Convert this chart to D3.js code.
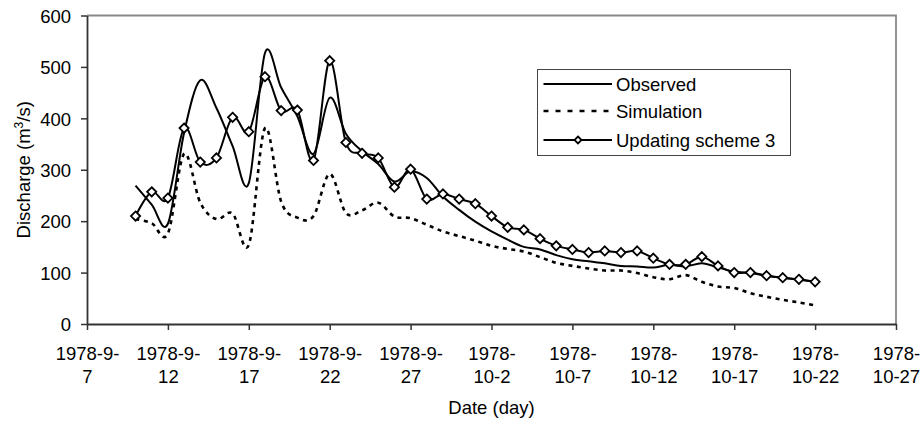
<!DOCTYPE html>
<html>
<head>
<meta charset="utf-8">
<script src="https://cdn.jsdelivr.net/npm/d3@7"></script>
<style>
  html, body { margin: 0; padding: 0; background: #fff; }
  svg { display: block; }
  text { font-family: "Liberation Sans", Arial, sans-serif; fill: #000; }
</style>
</head>
<body>
<svg id="chart" width="924" height="423"></svg>
<script>
// ---- data (daily, 1978-09-10 .. 1978-10-22) ----
const dates = [
  "1978-09-10","1978-09-11","1978-09-12","1978-09-13","1978-09-14","1978-09-15","1978-09-16",
  "1978-09-17","1978-09-18","1978-09-19","1978-09-20","1978-09-21","1978-09-22","1978-09-23",
  "1978-09-24","1978-09-25","1978-09-26","1978-09-27","1978-09-28","1978-09-29","1978-09-30",
  "1978-10-01","1978-10-02","1978-10-03","1978-10-04","1978-10-05","1978-10-06","1978-10-07",
  "1978-10-08","1978-10-09","1978-10-10","1978-10-11","1978-10-12","1978-10-13","1978-10-14",
  "1978-10-15","1978-10-16","1978-10-17","1978-10-18","1978-10-19","1978-10-20","1978-10-21",
  "1978-10-22"
];
const observed = [269, 232, 195, 372, 474, 420, 346, 274, 527, 460, 404, 331, 440, 370, 336, 311, 277, 297, 284, 248, 222,
                  199, 180, 164, 150, 145, 134, 126, 122, 118, 113, 112, 110, 115, 112, 118, 110, 102, 99, 94, 90, 86, 82];
const simulation = [204, 196, 176, 331, 236, 204, 215, 154, 381, 238, 207, 210, 292, 216, 221, 236, 209, 206, 193, 180, 171,
                    162, 152, 146, 141, 130, 119, 113, 108, 104, 104, 99, 91, 87, 95, 82, 73, 70, 60, 53, 47, 42, 36];
const updating = [210, 257, 245, 381, 315, 323, 402, 374, 481, 415, 416, 318, 512, 353, 332, 323, 266, 301, 243, 253, 243,
                  234, 210, 188, 183, 166, 152, 145, 139, 142, 139, 142, 128, 116, 116, 131, 113, 100, 100, 94, 90, 87, 82];
const seriesNames = ["Observed", "Simulation", "Updating scheme 3"];
const xTickDates = ["1978-09-07","1978-09-12","1978-09-17","1978-09-22","1978-09-27","1978-10-02",
                    "1978-10-07","1978-10-12","1978-10-17","1978-10-22","1978-10-27"];
const xTickLabels = ["1978-9-7","1978-9-12","1978-9-17","1978-9-22","1978-9-27","1978-10-2",
                     "1978-10-7","1978-10-12","1978-10-17","1978-10-22","1978-10-27"];
const yTicks = [0, 100, 200, 300, 400, 500, 600];
const xTitle = "Date (day)";

// ---- layout ----
const FS = 18.5;
const plot = { left: 87, right: 896, top: 15.5, bottom: 324 };
const parse = d3.utcParse("%Y-%m-%d");

const x = d3.scaleUtc()
  .domain([parse(xTickDates[0]), parse(xTickDates[xTickDates.length - 1])])
  .range([plot.left, plot.right]);
const y = d3.scaleLinear().domain([0, 600]).range([plot.bottom, plot.top]);

const svg = d3.select("#chart");
svg.append("rect").attr("width", 924).attr("height", 423).attr("fill", "#fff");

// plot frame (top & right)
svg.append("path")
  .attr("d", `M${plot.left},${plot.top}H${plot.right}V${plot.bottom}`)
  .attr("fill", "none").attr("stroke", "#888").attr("stroke-width", 1.8);

// y axis
const yAxis = svg.append("g")
  .attr("transform", `translate(${plot.left},0)`)
  .call(d3.axisLeft(y).tickValues(yTicks).tickSize(6).tickPadding(10).tickSizeOuter(0));
yAxis.select(".domain").attr("stroke", "#333").attr("stroke-width", 1.8);
yAxis.selectAll(".tick line").attr("stroke", "#333").attr("stroke-width", 1.5);
yAxis.selectAll(".tick text").attr("font-size", FS).attr("font-family", "Liberation Sans, Arial, sans-serif")
  .attr("fill", "#000").attr("dy", "0.36em");

// x axis
const tickMap = new Map(xTickDates.map((d, i) => [+parse(d), xTickLabels[i]]));
const xAxis = svg.append("g")
  .attr("transform", `translate(0,${plot.bottom})`)
  .call(d3.axisBottom(x).tickValues(xTickDates.map(parse)).tickSize(6).tickSizeOuter(0).tickFormat(""));
xAxis.select(".domain").attr("stroke", "#333").attr("stroke-width", 1.8);
xAxis.selectAll(".tick line").attr("stroke", "#333").attr("stroke-width", 1.5);
xAxis.selectAll(".tick").each(function(d) {
  const label = tickMap.get(+d);
  const m = label.match(/^(1978-(?:9-)?)(.*)$/);
  const t = d3.select(this).select("text")
    .attr("font-size", FS).attr("font-family", "Liberation Sans, Arial, sans-serif")
    .attr("fill", "#000").attr("text-anchor", "middle").attr("y", 0).attr("dy", null).text(null);
  t.append("tspan").attr("x", 0).attr("y", 36).text(m[1]);
  t.append("tspan").attr("x", 0).attr("y", 58.7).text(m[2]);
});

// axis titles
svg.append("text")
  .attr("x", (plot.left + plot.right) / 2).attr("y", 414)
  .attr("text-anchor", "middle").attr("font-size", FS).text(xTitle);

const yt = svg.append("text")
  .attr("transform", `translate(29.5,${(plot.top + plot.bottom) / 2}) rotate(-90)`)
  .attr("text-anchor", "middle").attr("font-size", FS);
yt.append("tspan").text("Discharge (m");
yt.append("tspan").attr("font-size", 12).attr("dy", -7).text("3");
yt.append("tspan").attr("dy", 7).text("/s)");

// ---- series ----
const curve = d3.curveCardinal.tension(0);
const mk = arr => arr.map((v, i) => ({ d: parse(dates[i]), v }));
const line = d3.line().x(p => x(p.d)).y(p => y(p.v)).curve(curve);

svg.append("path").datum(mk(simulation))
  .attr("d", line).attr("fill", "none").attr("stroke", "#000")
  .attr("stroke-width", 2.6).attr("stroke-dasharray", "4,4.5");

svg.append("path").datum(mk(observed))
  .attr("d", line).attr("fill", "none").attr("stroke", "#000").attr("stroke-width", 2);

svg.append("path").datum(mk(updating))
  .attr("d", line).attr("fill", "none").attr("stroke", "#000").attr("stroke-width", 2);

const diamond = r => `M0,${-r}L${r},0L0,${r}L${-r},0Z`;
svg.append("g").selectAll("path").data(mk(updating)).join("path")
  .attr("transform", p => `translate(${x(p.d)},${y(p.v)})`)
  .attr("d", diamond(4.6)).attr("fill", "#fff").attr("stroke", "#000").attr("stroke-width", 1.8);

// ---- legend ----
const lg = svg.append("g");
lg.append("rect").attr("x", 537.5).attr("y", 69.5).attr("width", 253).attr("height", 86)
  .attr("fill", "#fff").attr("stroke", "#444").attr("stroke-width", 1);
const rowsY = [84, 111, 140];
const styles = [
  { dash: null, w: 2, marker: false },
  { dash: "5,7", w: 2.6, marker: false },
  { dash: null, w: 2, marker: true }
];
seriesNames.forEach((name, i) => {
  const yy = rowsY[i];
  lg.append("line").attr("x1", 543.5).attr("x2", 612).attr("y1", yy).attr("y2", yy)
    .attr("stroke", "#000").attr("stroke-width", styles[i].w)
    .attr("stroke-dasharray", styles[i].dash);
  if (styles[i].marker) {
    lg.append("path").attr("transform", `translate(578,${yy})`).attr("d", diamond(3.5))
      .attr("fill", "#fff").attr("stroke", "#000").attr("stroke-width", 1.8);
  }
  lg.append("text").attr("x", 616).attr("y", yy + 6.5).attr("font-size", FS).text(name);
});
</script>
</body>
</html>
